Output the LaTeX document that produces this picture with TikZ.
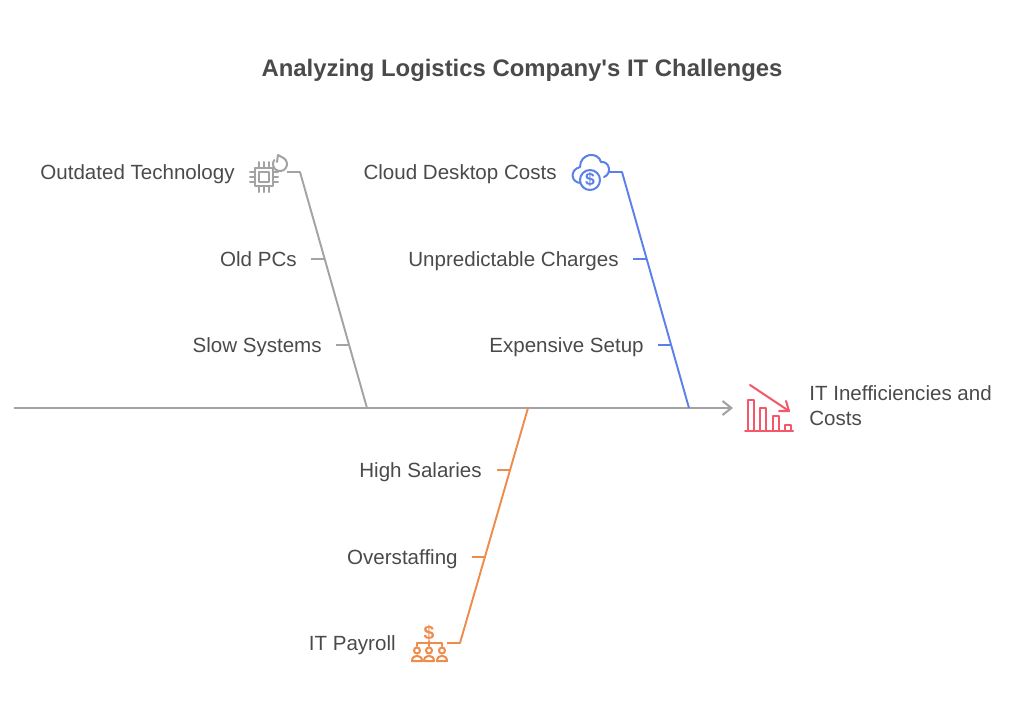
\documentclass[tikz,border=0pt]{standalone}
\usepackage{fontspec}
\setmainfont{Liberation Sans}
\usetikzlibrary{arrows.meta,positioning}
\pgfdeclarelayer{edgelayer}
\pgfdeclarelayer{nodelayer}
\pgfsetlayers{edgelayer,nodelayer,main}
\definecolor{inkgrey}{HTML}{4A4A4A}
\definecolor{spinegrey}{HTML}{A3A3A3}
\definecolor{cloudblue}{HTML}{5B80E8}
\definecolor{payorange}{HTML}{EF8B4B}
\definecolor{lossred}{HTML}{F4566A}
\tikzstyle{none}=[inner sep=0pt]
\tikzstyle{heading}=[inner sep=0pt,anchor=base,text=inkgrey,font=\fontsize{13.6}{17}\selectfont\bfseries]
\tikzstyle{cause}=[inner sep=0pt,anchor=base east,text=inkgrey,font=\fontsize{11.7}{14.5}\selectfont]
\tikzstyle{effect}=[inner sep=0pt,anchor=north west,align=left,text=inkgrey,font=\fontsize{11.7}{14.2}\selectfont]
\tikzstyle{spine}=[draw=spinegrey,line width=1.2pt,-{Straight Barb[length=5pt,width=8pt,line width=1.2pt]}]
\tikzstyle{rib}=[line width=1.1pt,line join=round]
\tikzstyle{ricon}=[line width=1.15pt,line join=round,line cap=round]

\begin{document}
\begin{tikzpicture}[x=0.02cm,y=-0.02cm]
	\useasboundingbox (0,0) rectangle (1024,724);
	\begin{pgfonlayer}{nodelayer}
		\node [style=heading] (title) at (522,76) {Analyzing Logistics Company\textquotesingle s IT Challenges};

		\node [style=cause] (outdated) at (235,179.5) {Outdated Technology};
		\node [style=cause] (oldpcs) at (297,266) {Old PCs};
		\node [style=cause] (slow) at (322,352.5) {Slow Systems};

		\node [style=cause] (cloud) at (557,179.5) {Cloud Desktop Costs};
		\node [style=cause] (charges) at (619,266) {Unpredictable Charges};
		\node [style=cause] (setup) at (644,352.5) {Expensive Setup};

		\node [style=cause] (salaries) at (482,477) {High Salaries};
		\node [style=cause] (overstaff) at (458,564) {Overstaffing};
		\node [style=cause] (payroll) at (396,650.5) {IT Payroll};

		\node [style=effect] (result) at (809,385) {IT Inefficiencies and\\Costs};

		\node [style=none] (spineL) at (14,408) {};
		\node [style=none] (spineR) at (733,408) {};

		\node [style=none] (GS) at (287,172) {};
		\node [style=none] (GK) at (300,172) {};
		\node [style=none] (GE) at (367,408) {};
		\node [style=none] (G1L) at (311,259) {};
		\node [style=none] (G1R) at (325,259) {};
		\node [style=none] (G2L) at (336,345) {};
		\node [style=none] (G2R) at (349,345) {};

		\node [style=none] (BS) at (608,172) {};
		\node [style=none] (BK) at (622,172) {};
		\node [style=none] (BE) at (689,408) {};
		\node [style=none] (B1L) at (633,259) {};
		\node [style=none] (B1R) at (647,259) {};
		\node [style=none] (B2L) at (658,345) {};
		\node [style=none] (B2R) at (671,345) {};

		\node [style=none] (OS) at (447,643) {};
		\node [style=none] (OK) at (460,643) {};
		\node [style=none] (OE) at (528,408) {};
		\node [style=none] (O1L) at (497,470) {};
		\node [style=none] (O1R) at (511,470) {};
		\node [style=none] (O2L) at (472,557) {};
		\node [style=none] (O2R) at (486,557) {};
	\end{pgfonlayer}
	\begin{pgfonlayer}{edgelayer}
		\draw [style=spine] (spineL.center) to (spineR.center);

		\draw [style=rib,draw=spinegrey] (GS.center) -- (GK.center) -- (GE.center);
		\draw [style=rib,draw=spinegrey] (G1L.center) to (G1R.center);
		\draw [style=rib,draw=spinegrey] (G2L.center) to (G2R.center);

		\draw [style=rib,draw=cloudblue] (BS.center) -- (BK.center) -- (BE.center);
		\draw [style=rib,draw=cloudblue] (B1L.center) to (B1R.center);
		\draw [style=rib,draw=cloudblue] (B2L.center) to (B2R.center);

		\draw [style=rib,draw=payorange] (OS.center) -- (OK.center) -- (OE.center);
		\draw [style=rib,draw=payorange] (O1L.center) to (O1R.center);
		\draw [style=rib,draw=payorange] (O2L.center) to (O2R.center);
	\end{pgfonlayer}

	% chip icon
	\draw [style=ricon,draw=spinegrey] (255,168) rectangle (273,186);
	\draw [style=ricon,draw=spinegrey,line width=1.4pt] (259,172) rectangle (269,182);
	\foreach \p in {259,264,269} {
		\draw [style=ricon,draw=spinegrey] (\p,162) -- (\p,168);
		\draw [style=ricon,draw=spinegrey] (\p,186) -- (\p,192);
		\draw [style=ricon,draw=spinegrey] (250,\p-87) -- (255,\p-87);
		\draw [style=ricon,draw=spinegrey] (273,\p-87) -- (278,\p-87);
	}
	\draw [style=ricon,draw=spinegrey] (277,162) -- (278,155) -- (284,158.3) arc (-55:215:7);

	% cloud icon
	\draw [style=ricon,draw=cloudblue] (581,183) .. controls (571,183) and (569,170) .. (580,167) .. controls (580,153) and (598,151) .. (601,162) .. controls (610,161) and (612,174) .. (604,177);
	\draw [style=ricon,draw=cloudblue,fill=white] (590,180) circle (10);
	\node [style=none,text=cloudblue,font=\fontsize{10}{12}\selectfont\bfseries] (clouddollar) at (590,180) {\$};

	% falling bars icon
	\draw [style=ricon,draw=lossred] (748,431) -- (748,400) -- (754,400) -- (754,431);
	\draw [style=ricon,draw=lossred] (760,431) -- (760,408) -- (766,408) -- (766,431);
	\draw [style=ricon,draw=lossred] (773,431) -- (773,416) -- (779,416) -- (779,431);
	\draw [style=ricon,draw=lossred] (785,431) -- (785,425) -- (791,425) -- (791,431);
	\draw [style=ricon,draw=lossred] (745,431) -- (793,431);
	\draw [style=ricon,draw=lossred] (750,385) -- (789,411);
	\draw [style=ricon,draw=lossred] (786,401) -- (789,411) -- (779,411);

	% payroll icon
	\node [style=none,text=payorange,font=\fontsize{11}{13}\selectfont\bfseries] (paydollar) at (429,633) {\$};
	\draw [style=ricon,draw=payorange] (429,641) -- (429,646);
	\draw [style=ricon,draw=payorange] (417,646) -- (417,643) -- (442,643) -- (442,646);
	\foreach \p in {417,429,442} {
		\draw [style=ricon,draw=payorange] (\p,650.5) circle (3);
		\draw [style=ricon,draw=payorange] (\p-5,661) .. controls (\p-5,654) and (\p+5,654) .. (\p+5,661) -- cycle;
	}
\end{tikzpicture}
\end{document}
